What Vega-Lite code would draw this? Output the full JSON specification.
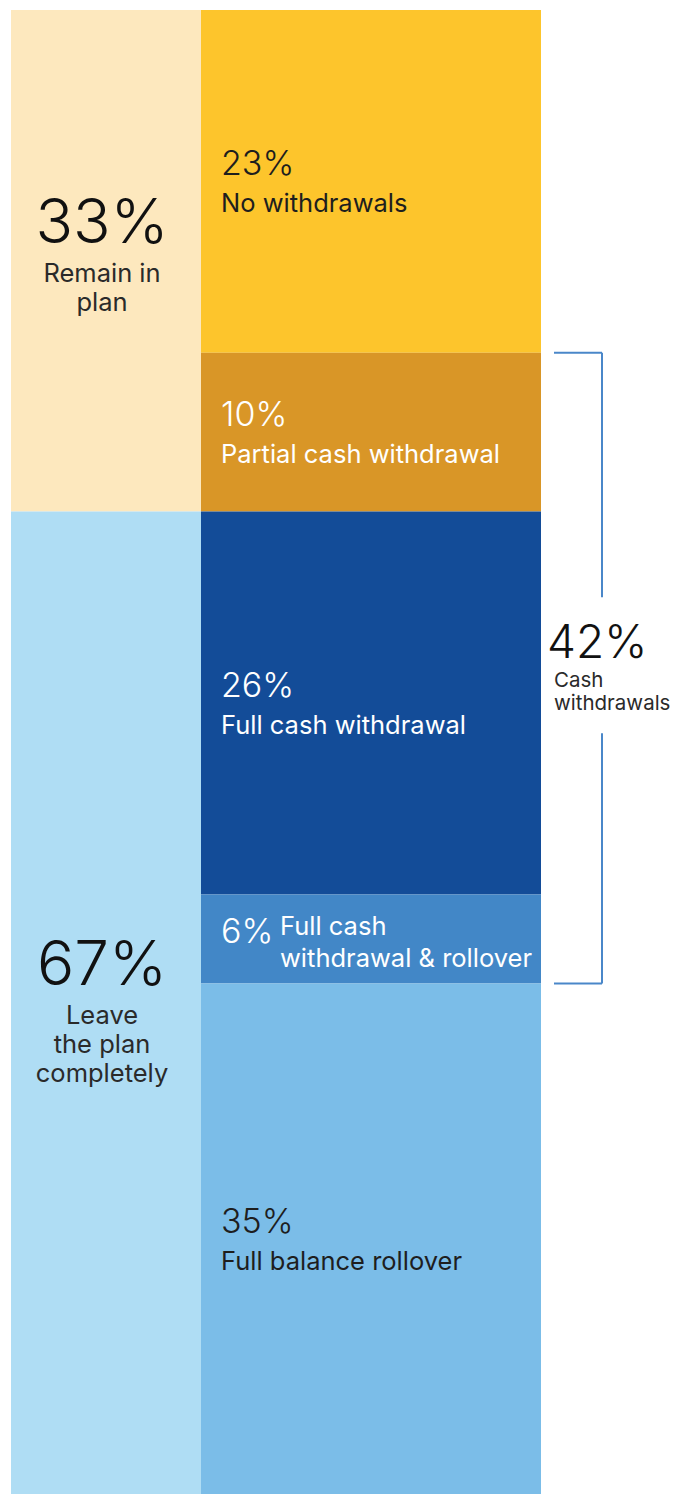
{
  "$schema": "https://vega.github.io/schema/vega-lite/v6.json",
  "background": "white",
  "padding": {"left": 11, "top": 10, "right": 0, "bottom": 0},
  "config": {"view": {"stroke": null}, "font": "Inter", "concat": {"spacing": 0}},
  "datasets": {
    "status": [
      {"order": 1, "label": "Remain in\nplan", "value": 0.33, "share": 33.8},
      {"order": 2, "label": "Leave\nthe plan\ncompletely", "value": 0.67, "share": 66.2}
    ],
    "outcome": [
      {"order": 1, "label": "No withdrawals", "value": 0.23, "share": 23.1, "cash": false, "group": null},
      {"order": 2, "label": "Partial cash withdrawal", "value": 0.10, "share": 10.7, "cash": true, "group": "Cash withdrawals"},
      {"order": 3, "label": "Full cash withdrawal", "value": 0.26, "share": 25.8, "cash": true, "group": "Cash withdrawals"},
      {"order": 4, "label": "Full cash\nwithdrawal & rollover", "value": 0.06, "share": 6.0, "cash": true, "group": "Cash withdrawals"},
      {"order": 5, "label": "Full balance rollover", "value": 0.35, "share": 34.4, "cash": false, "group": null}
    ]
  },
  "spacing": 6,
  "resolve": {"scale": {"fill": "independent", "color": "independent"}},
  "hconcat": [
    {
      "spacing": 0,
      "resolve": {"scale": {"fill": "independent", "color": "independent", "y": "independent"}},
      "hconcat": [
        {
          "width": 190,
          "height": 1484,
          "data": {"name": "status"},
          "transform": [
            {"stack": "share", "groupby": [], "sort": [{"field": "order", "order": "ascending"}], "as": ["s0", "s1"]}
          ],
          "layer": [
            {
              "mark": {"type": "rect"},
              "encoding": {
                "y": {"field": "s0", "type": "quantitative", "scale": {"domain": [0, 100], "reverse": true, "nice": false, "zero": false}, "axis": null},
                "y2": {"field": "s1"},
                "fill": {"field": "label", "type": "nominal", "legend": null,
                  "scale": {"domain": ["Remain in\nplan", "Leave\nthe plan\ncompletely"], "range": ["#FDE8BE", "#AFDDF4"]}}
              }
            },
            {
              "transform": [
                {"fold": ["s0", "s1"], "as": ["edge", "pos"]},
                {"aggregate": [{"op": "mean", "field": "pos", "as": "mid"}], "groupby": ["label", "value", "order"]}
              ],
              "mark": {"type": "text", "fontSize": 62, "fontWeight": 300, "align": "center", "baseline": "alphabetic", "dy": -18, "dx": -4},
              "encoding": {
                "y": {"field": "mid", "type": "quantitative"},
                "text": {"field": "value", "type": "quantitative", "format": ".0%"},
                "color": {"value": "#111111"}
              }
            },
            {
              "transform": [
                {"fold": ["s0", "s1"], "as": ["edge", "pos"]},
                {"aggregate": [{"op": "mean", "field": "pos", "as": "mid"}], "groupby": ["label", "value", "order"]}
              ],
              "mark": {"type": "text", "fontSize": 25.5, "fontWeight": 400, "align": "center", "baseline": "alphabetic", "dy": 21, "dx": -4, "lineBreak": "\n", "lineHeight": 29},
              "encoding": {
                "y": {"field": "mid", "type": "quantitative"},
                "text": {"field": "label", "type": "nominal"},
                "color": {"value": "#2a2a2a"}
              }
            }
          ]
        },
        {
          "width": 340,
          "height": 1484,
          "data": {"name": "outcome"},
          "transform": [
            {"stack": "share", "groupby": [], "sort": [{"field": "order", "order": "ascending"}], "as": ["s0", "s1"]}
          ],
          "layer": [
            {
              "mark": {"type": "rect"},
              "encoding": {
                "y": {"field": "s0", "type": "quantitative", "scale": {"domain": [0, 100], "reverse": true, "nice": false, "zero": false}, "axis": null},
                "y2": {"field": "s1"},
                "fill": {"field": "label", "type": "nominal", "legend": null,
                  "scale": {"domain": ["No withdrawals", "Partial cash withdrawal", "Full cash withdrawal", "Full cash\nwithdrawal & rollover", "Full balance rollover"],
                            "range": ["#FDC52C", "#D99627", "#134C98", "#4287C7", "#7BBDE8"]}}
              }
            },
            {
              "transform": [
                {"fold": ["s0", "s1"], "as": ["edge", "pos"]},
                {"aggregate": [{"op": "mean", "field": "pos", "as": "mid"}], "groupby": ["label", "value", "order"]},
                {"filter": "datum.order != 4"}
              ],
              "mark": {"type": "text", "fontSize": 34, "fontWeight": 300, "align": "left", "baseline": "alphabetic", "dy": -6, "dx": -150},
              "encoding": {
                "y": {"field": "mid", "type": "quantitative"},
                "text": {"field": "value", "type": "quantitative", "format": ".0%"},
                "color": {"field": "label", "type": "nominal", "legend": null,
                  "scale": {"domain": ["No withdrawals", "Partial cash withdrawal", "Full cash withdrawal", "Full balance rollover"],
                            "range": ["#1e1e1e", "#ffffff", "#ffffff", "#1e1e1e"]}}
              }
            },
            {
              "transform": [
                {"fold": ["s0", "s1"], "as": ["edge", "pos"]},
                {"aggregate": [{"op": "mean", "field": "pos", "as": "mid"}], "groupby": ["label", "value", "order"]},
                {"filter": "datum.order != 4"}
              ],
              "mark": {"type": "text", "fontSize": 25.5, "fontWeight": 400, "align": "left", "baseline": "alphabetic", "dy": 31, "dx": -150},
              "encoding": {
                "y": {"field": "mid", "type": "quantitative"},
                "text": {"field": "label", "type": "nominal"},
                "color": {"field": "label", "type": "nominal", "legend": null,
                  "scale": {"domain": ["No withdrawals", "Partial cash withdrawal", "Full cash withdrawal", "Full balance rollover"],
                            "range": ["#2a2a2a", "#ffffff", "#ffffff", "#2a2a2a"]}}
              }
            },
            {
              "transform": [
                {"fold": ["s0", "s1"], "as": ["edge", "pos"]},
                {"aggregate": [{"op": "mean", "field": "pos", "as": "mid"}], "groupby": ["label", "value", "order"]},
                {"filter": "datum.order == 4"}
              ],
              "mark": {"type": "text", "fontSize": 34, "fontWeight": 300, "align": "left", "baseline": "alphabetic", "dy": 4, "dx": -150, "color": "#ffffff"},
              "encoding": {
                "y": {"field": "mid", "type": "quantitative"},
                "text": {"field": "value", "type": "quantitative", "format": ".0%"}
              }
            },
            {
              "transform": [
                {"fold": ["s0", "s1"], "as": ["edge", "pos"]},
                {"aggregate": [{"op": "mean", "field": "pos", "as": "mid"}], "groupby": ["label", "value", "order"]},
                {"filter": "datum.order == 4"}
              ],
              "mark": {"type": "text", "fontSize": 25.5, "fontWeight": 400, "align": "left", "baseline": "alphabetic", "dy": -4, "dx": -91, "lineBreak": "\n", "lineHeight": 32, "color": "#ffffff"},
              "encoding": {
                "y": {"field": "mid", "type": "quantitative"},
                "text": {"field": "label", "type": "nominal"}
              }
            }
          ]
        }
      ]
    },
    {
      "width": 48,
      "height": 1484,
      "data": {"name": "outcome"},
      "transform": [
        {"stack": "share", "groupby": [], "sort": [{"field": "order", "order": "ascending"}], "as": ["s0", "s1"]},
        {"filter": "datum.cash"},
        {"aggregate": [
          {"op": "min", "field": "s0", "as": "cs"},
          {"op": "max", "field": "s1", "as": "ce"},
          {"op": "sum", "field": "value", "as": "total"}
        ], "groupby": ["group"]},
        {"fold": ["cs", "ce"], "as": ["edge", "pos"]},
        {"joinaggregate": [{"op": "mean", "field": "pos", "as": "cm"}], "groupby": ["group"]}
      ],
      "layer": [
        {
          "mark": {"type": "rule", "color": "#4A87C9", "strokeWidth": 2},
          "encoding": {
            "y": {"field": "pos", "type": "quantitative", "scale": {"domain": [0, 100], "reverse": true, "nice": false, "zero": false}, "axis": null}
          }
        },
        {
          "transform": [{"filter": "datum.edge == 'cs'"}],
          "mark": {"type": "rule", "color": "#4A87C9", "strokeWidth": 2, "y2Offset": -71},
          "encoding": {
            "x": {"value": "width"},
            "y": {"field": "pos", "type": "quantitative"},
            "y2": {"field": "cm"}
          }
        },
        {
          "transform": [{"filter": "datum.edge == 'ce'"}],
          "mark": {"type": "rule", "color": "#4A87C9", "strokeWidth": 2, "yOffset": 65},
          "encoding": {
            "x": {"value": "width"},
            "y": {"field": "cm", "type": "quantitative"},
            "y2": {"field": "pos"}
          }
        },
        {
          "transform": [{"filter": "datum.edge == 'cs'"}],
          "mark": {"type": "text", "fontSize": 46, "fontWeight": 300, "align": "left", "baseline": "alphabetic", "dy": -10, "dx": -31, "color": "#111111"},
          "encoding": {
            "y": {"field": "cm", "type": "quantitative"},
            "text": {"field": "total", "type": "quantitative", "format": ".0%"}
          }
        },
        {
          "transform": [{"filter": "datum.edge == 'cs'"}],
          "mark": {"type": "text", "fontSize": 20.5, "fontWeight": 400, "align": "left", "baseline": "alphabetic", "dy": 19, "dx": -24, "lineBreak": " ", "lineHeight": 23, "color": "#2a2a2a"},
          "encoding": {
            "y": {"field": "cm", "type": "quantitative"},
            "text": {"field": "group", "type": "nominal"}
          }
        }
      ]
    }
  ]
}
